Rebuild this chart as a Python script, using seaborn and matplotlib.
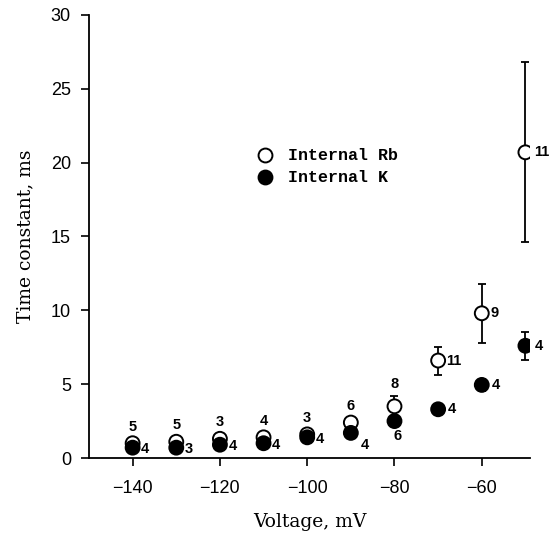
import numpy as np
import pandas as pd
import matplotlib
matplotlib.use("Agg")
import matplotlib.pyplot as plt
import seaborn as sns

# dados
voltagem = [-140, -130, -120, -110, -100, -90, -80, -70, -60, -50]
tau_rb = [1.0, 1.1, 1.3, 1.4, 1.6, 2.4, 3.5, 6.6, 9.8, 20.7]
erro_rb = [0.2, 0.2, 0.2, 0.2, 0.2, 0.2, 0.7, 0.95, 2.0, 6.1]
tau_k = [0.7, 0.7, 0.9, 1.0, 1.4, 1.7, 2.5, 3.3, 4.95, 7.6]
erro_k = [0.1, 0.1, 0.1, 0.1, 0.1, 0.1, 0.2, 0.2, 0.4, 0.95]
n_rb = ["5", "5", "3", "4", "3", "6", "8", "11", "9", "11"]
n_k = ["4", "3", "4", "4", "4", "4", "6", "4", "4", "4"]

# posicao dos numeros (offset em pontos)
pos_rb = [(0, 12)] * 6 + [(0, 16), (6, 0), (6, 0), (6, 0)]
pos_k = [(6, -1)] * 5 + [(7, -9), (2, -11), (7, 0), (7, 0), (7, 0)]

df = pd.DataFrame({
    'Voltagem': voltagem * 2,
    'Tau': tau_rb + tau_k,
    'Grupo': ['Internal Rb'] * len(voltagem) + ['Internal K'] * len(voltagem),
})

sns.set_style("ticks", {'text.color': 'black', 'axes.labelcolor': 'black',
                        'xtick.color': 'black', 'ytick.color': 'black',
                        'axes.edgecolor': 'black'})
fig = plt.figure(figsize=(5.51, 5.33), dpi=100)
ax = fig.add_axes([0.1615, 0.1407, 0.80, 0.8312])

ax.errorbar(voltagem, tau_rb, yerr=erro_rb, fmt='none', ecolor='black',
            elinewidth=1.3, capsize=3, capthick=1.3, zorder=1)
ax.errorbar(voltagem, tau_k, yerr=erro_k, fmt='none', ecolor='black',
            elinewidth=1.3, capsize=3, capthick=1.3, zorder=1)

sns.scatterplot(data=df, x='Voltagem', y='Tau', hue='Grupo',
                palette={'Internal Rb': 'white', 'Internal K': 'black'},
                s=100, edgecolor='black', linewidth=1.4, ax=ax, zorder=3,
                legend=False)

for v, t, n, p in zip(voltagem, tau_rb, n_rb, pos_rb):
    ha = 'center' if p[0] == 0 else 'left'
    ax.annotate(n, (v, t), xytext=p, textcoords='offset points', ha=ha,
                va='center', fontsize=10.5, fontweight='bold',
                family='Liberation Sans', color='black')
for v, t, n, p in zip(voltagem, tau_k, n_k, pos_k):
    ha = 'center' if p[0] < 4 else 'left'
    ax.annotate(n, (v, t), xytext=p, textcoords='offset points', ha=ha,
                va='center', fontsize=10.5, fontweight='bold',
                family='Liberation Sans', color='black')

# legenda manual
ax.scatter([-109.6], [20.5], s=100, facecolor='white', edgecolor='black', linewidth=1.4)
ax.scatter([-109.6], [19.0], s=100, facecolor='black', edgecolor='black', linewidth=1.4)
ax.text(-104.5, 20.5, 'Internal Rb', va='center', fontsize=12,
        family='Liberation Mono', fontweight='bold', color='black')
ax.text(-104.5, 19.0, 'Internal K', va='center', fontsize=12,
        family='Liberation Mono', fontweight='bold', color='black')

ax.set_xlim(-150, -49)
ax.set_ylim(0, 30)
ax.set_xticks([-140, -120, -100, -80, -60])
ax.set_yticks([0, 5, 10, 15, 20, 25, 30])
ax.tick_params(labelsize=13, width=1.2, length=6, direction='out', colors='black')
ax.tick_params(axis='x', pad=10)
ax.tick_params(axis='y', pad=7)
for lab in ax.get_xticklabels() + ax.get_yticklabels():
    lab.set_family('Liberation Sans')
sns.despine(ax=ax)
for s in ['left', 'bottom']:
    ax.spines[s].set_linewidth(1.3)
    ax.spines[s].set_color('black')

ax.set_xlabel('Voltage, mV', fontsize=13.5, family='DejaVu Serif', labelpad=11,
              color='black')
ax.set_ylabel('Time constant, ms', fontsize=13.5, family='DejaVu Serif', labelpad=12,
              color='black')

fig.savefig('out.png', dpi=100)
